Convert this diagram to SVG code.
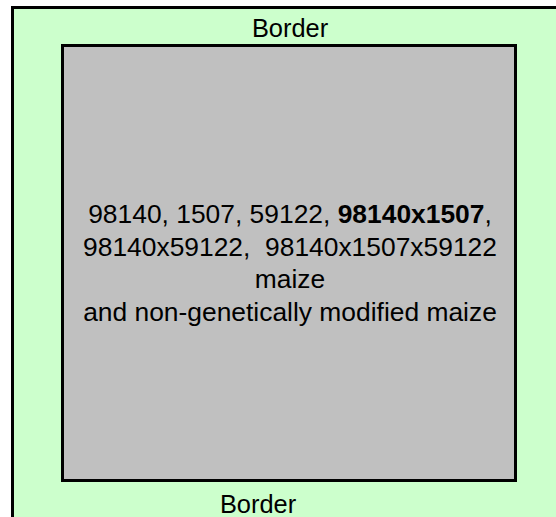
<svg xmlns="http://www.w3.org/2000/svg" width="556" height="517" viewBox="0 0 556 517">
<style>
.frame{stroke:#000;stroke-width:3}
.txt{font-family:"Liberation Sans",Arial,sans-serif;fill:#000;text-anchor:middle;white-space:pre}
.main{font-size:26.4px}
.lbl{font-size:25.4px}
</style>
<rect width="556" height="517" fill="#fff"/>
<g id="border-area">
<rect class="frame" x="12.5" y="7.5" width="560" height="530" fill="#CCFFCC"/>
<text class="txt lbl" x="290" y="37">Border</text>
<text class="txt lbl" x="258" y="513">Border</text>
</g>
<g id="plot">
<rect class="frame" x="62.5" y="45.5" width="453" height="435" fill="#C0C0C0"/>
<text class="txt main" x="290" y="223">98140, 1507, 59122, <tspan font-weight="bold">98140x1507</tspan>,</text>
<text class="txt main" x="290" y="255.5">98140x59122,  98140x1507x59122</text>
<text class="txt main" x="290" y="288">maize</text>
<text class="txt main" x="290" y="320.5">and non-genetically modified maize</text>
</g>
<g id="connectors"/>
</svg>
